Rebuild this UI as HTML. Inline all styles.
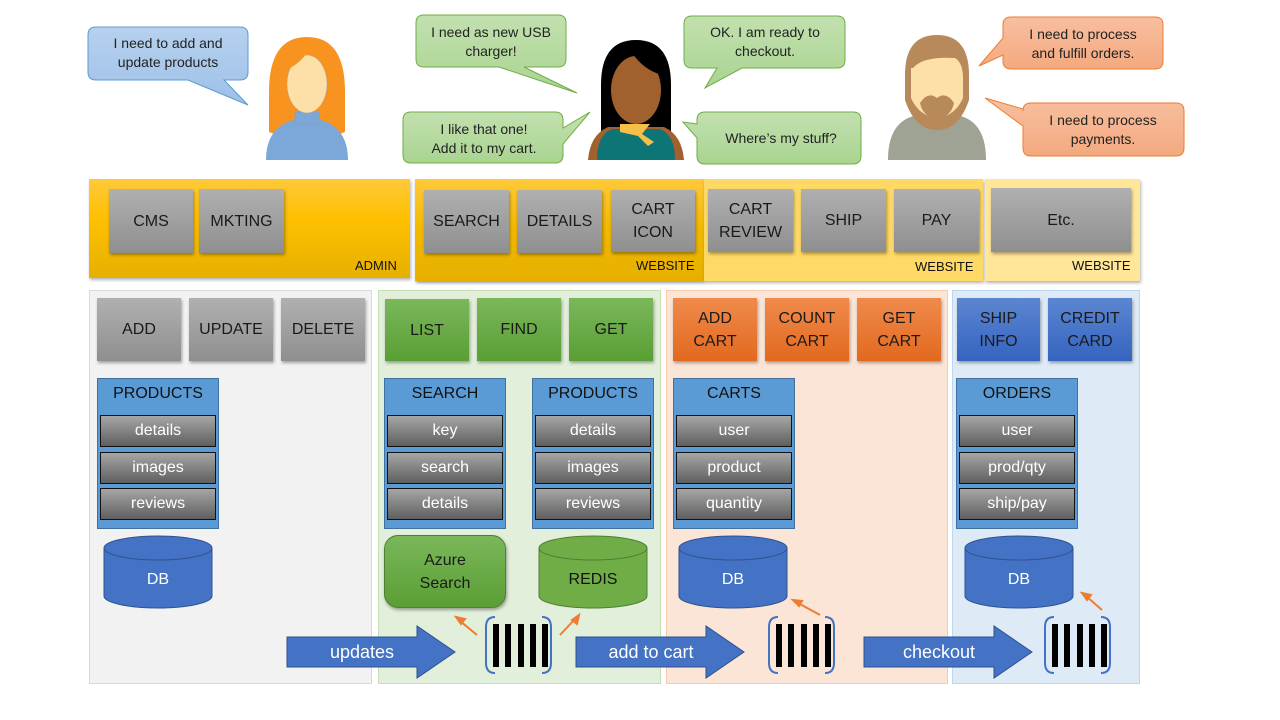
<!DOCTYPE html>
<html><head><meta charset="utf-8"><style>
*{margin:0;padding:0;box-sizing:border-box}
body{width:1280px;height:720px;background:#fff;position:relative;overflow:hidden;font-family:"Liberation Sans",sans-serif}
.a{position:absolute}
.btn{position:absolute;display:flex;align-items:center;justify-content:center;text-align:center;font-size:16px;line-height:23px;color:#1a1a1a;box-shadow:1px 2px 3px rgba(0,0,0,.35)}
.g{background:linear-gradient(#b0b0b0,#8f8f8f)}
.gr{background:linear-gradient(#7ab85a,#5a9e35)}
.or{background:linear-gradient(#f08a4b,#e2691f)}
.bl{background:linear-gradient(#5b86d0,#3564c0)}
.lbl{position:absolute;font-size:13px;color:#111}
.tbl{position:absolute;background:#5b9bd5;border:1px solid #41719c;width:122px;height:151px}
.tbl .h{position:absolute;left:0;top:6px;width:100%;text-align:center;font-size:16px;color:#111}
.row{position:absolute;left:2px;width:116px;height:32px;border:1px solid #111;background:linear-gradient(#a6a6a6,#5f5f5f);color:#fff;font-size:16px;display:flex;align-items:center;justify-content:center}
</style></head><body>

<div class="a" style="left:89px;top:290px;width:283px;height:394px;background:#f2f2f2;border:1px solid #d9d9d9"></div>
<div class="a" style="left:378px;top:290px;width:283px;height:394px;background:#e2efda;border:1px solid #c5e0b4"></div>
<div class="a" style="left:666px;top:290px;width:282px;height:394px;background:#fbe5d6;border:1px solid #f8cbad"></div>
<div class="a" style="left:952px;top:290px;width:188px;height:394px;background:#deebf7;border:1px solid #bdd7ee"></div>

<div class="a" style="left:89px;top:179px;width:321px;height:99px;background:linear-gradient(#ffc93a,#ffc000 40%,#e6b000);box-shadow:1px 2px 3px rgba(0,0,0,.3)"></div>
<div class="a" style="left:415px;top:179px;width:289px;height:102px;background:linear-gradient(#ffc93a,#f2b800 50%,#e6b000);box-shadow:1px 2px 3px rgba(0,0,0,.4)"></div>
<div class="a" style="left:704px;top:179px;width:279px;height:102px;background:#ffd966;box-shadow:1px 2px 3px rgba(0,0,0,.3)"></div>
<div class="a" style="left:985px;top:179px;width:155px;height:102px;background:#ffe699;box-shadow:1px 2px 3px rgba(0,0,0,.3)"></div>
<div class="lbl" style="left:355px;top:258px">ADMIN</div>
<div class="lbl" style="left:636px;top:258px">WEBSITE</div>
<div class="lbl" style="left:915px;top:259px">WEBSITE</div>
<div class="lbl" style="left:1072px;top:258px">WEBSITE</div>

<div class="btn g" style="left:109px;top:189px;width:84px;height:64px">CMS</div>
<div class="btn g" style="left:199px;top:189px;width:85px;height:64px">MKTING</div>
<div class="btn g" style="left:424px;top:190px;width:85px;height:63px">SEARCH</div>
<div class="btn g" style="left:517px;top:190px;width:85px;height:63px">DETAILS</div>
<div class="btn g" style="left:611px;top:190px;width:84px;height:62px">CART<br>ICON</div>
<div class="btn g" style="left:708px;top:189px;width:85px;height:63px">CART<br>REVIEW</div>
<div class="btn g" style="left:801px;top:189px;width:85px;height:63px">SHIP</div>
<div class="btn g" style="left:894px;top:189px;width:85px;height:63px">PAY</div>
<div class="btn g" style="left:991px;top:188px;width:140px;height:64px">Etc.</div>

<div class="btn g" style="left:97px;top:298px;width:84px;height:63px">ADD</div>
<div class="btn g" style="left:189px;top:298px;width:84px;height:63px">UPDATE</div>
<div class="btn g" style="left:281px;top:298px;width:84px;height:63px">DELETE</div>
<div class="btn gr" style="left:385px;top:299px;width:84px;height:62px">LIST</div>
<div class="btn gr" style="left:477px;top:298px;width:84px;height:63px">FIND</div>
<div class="btn gr" style="left:569px;top:298px;width:84px;height:63px">GET</div>
<div class="btn or" style="left:673px;top:298px;width:84px;height:63px">ADD<br>CART</div>
<div class="btn or" style="left:765px;top:298px;width:84px;height:63px">COUNT<br>CART</div>
<div class="btn or" style="left:857px;top:298px;width:84px;height:63px">GET<br>CART</div>
<div class="btn bl" style="left:957px;top:298px;width:83px;height:63px">SHIP<br>INFO</div>
<div class="btn bl" style="left:1048px;top:298px;width:84px;height:63px">CREDIT<br>CARD</div>

<div class="tbl" style="left:97px;top:378px"><div class="h">PRODUCTS</div>
<div class="row" style="top:36px">details</div><div class="row" style="top:73px">images</div><div class="row" style="top:109px">reviews</div></div>
<div class="tbl" style="left:384px;top:378px"><div class="h">SEARCH</div>
<div class="row" style="top:36px">key</div><div class="row" style="top:73px">search</div><div class="row" style="top:109px">details</div></div>
<div class="tbl" style="left:532px;top:378px"><div class="h">PRODUCTS</div>
<div class="row" style="top:36px">details</div><div class="row" style="top:73px">images</div><div class="row" style="top:109px">reviews</div></div>
<div class="tbl" style="left:673px;top:378px"><div class="h">CARTS</div>
<div class="row" style="top:36px">user</div><div class="row" style="top:73px">product</div><div class="row" style="top:109px">quantity</div></div>
<div class="tbl" style="left:956px;top:378px"><div class="h">ORDERS</div>
<div class="row" style="top:36px">user</div><div class="row" style="top:73px">prod/qty</div><div class="row" style="top:109px">ship/pay</div></div>

<div class="btn gr" style="left:384px;top:535px;width:122px;height:73px;border-radius:14px;border:1px solid #507e32">Azure<br>Search</div>

<svg class="a" style="left:0;top:0" width="1280" height="720" xmlns="http://www.w3.org/2000/svg">
<defs>
<linearGradient id="gb" x1="0" y1="0" x2="0" y2="1"><stop offset="0" stop-color="#b7d1ee"/><stop offset="1" stop-color="#9dc0e8"/></linearGradient>
<linearGradient id="gg" x1="0" y1="0" x2="0" y2="1"><stop offset="0" stop-color="#c2e0b0"/><stop offset="1" stop-color="#a9d48f"/></linearGradient>
<linearGradient id="go" x1="0" y1="0" x2="0" y2="1"><stop offset="0" stop-color="#f8bfa0"/><stop offset="1" stop-color="#f4a97f"/></linearGradient>
</defs>
<g stroke="#2f528f" stroke-width="1">
<path d="M104 548 v48 a54 12 0 0 0 108 0 v-48" fill="#4472c4"/><ellipse cx="158" cy="548" rx="54" ry="12" fill="#4472c4"/>
<path d="M539 548 v48 a54 12 0 0 0 108 0 v-48" fill="#70ad47" stroke="#507e32"/><ellipse cx="593" cy="548" rx="54" ry="12" fill="#70ad47" stroke="#507e32"/>
<path d="M679 548 v48 a54 12 0 0 0 108 0 v-48" fill="#4472c4"/><ellipse cx="733" cy="548" rx="54" ry="12" fill="#4472c4"/>
<path d="M965 548 v48 a54 12 0 0 0 108 0 v-48" fill="#4472c4"/><ellipse cx="1019" cy="548" rx="54" ry="12" fill="#4472c4"/>
</g>
<g font-family="Liberation Sans" font-size="16" text-anchor="middle">
<text x="158" y="584" fill="#fff">DB</text><text x="593" y="584" fill="#111">REDIS</text>
<text x="733" y="584" fill="#fff">DB</text><text x="1019" y="584" fill="#fff">DB</text>
</g>
<g fill="#4472c4" stroke="#2f528f">
<path d="M287 637 h130 v-11 l38 26 l-38 26 v-11 h-130z"/>
<path d="M576 637 h130 v-11 l38 26 l-38 26 v-11 h-130z"/>
<path d="M864 637 h130 v-11 l38 26 l-38 26 v-11 h-130z"/>
</g>
<g font-family="Liberation Sans" font-size="18" fill="#fff" text-anchor="middle">
<text x="362" y="658">updates</text><text x="651" y="658">add to cart</text><text x="939" y="658">checkout</text>
</g>
<g id="q">
<path d="M495 617 q-9 0 -9 10 v36 q0 10 9 10 M542 617 q9 0 9 10 v36 q0 10 -9 10" fill="none" stroke="#4472c4" stroke-width="2"/>
<g fill="#000"><rect x="493" y="624" width="6" height="43"/><rect x="505" y="624" width="6" height="43"/><rect x="518" y="624" width="6" height="43"/><rect x="530" y="624" width="6" height="43"/><rect x="542" y="624" width="6" height="43"/></g>
</g>
<use href="#q" x="283"/><use href="#q" x="559"/>
<g stroke="#ed7d31" stroke-width="2" fill="#ed7d31">
<line x1="477" y1="635" x2="460" y2="621"/><path d="M456 617 l9 2 l-4 5z"/>
<line x1="560" y1="635" x2="575" y2="619"/><path d="M579 615 l-2 9 l-5 -4z"/>
<line x1="820" y1="615" x2="798" y2="603"/><path d="M793 600 l9 1 l-3 5z"/>
<line x1="1102" y1="610" x2="1086" y2="596"/><path d="M1082 593 l9 2 l-4 5z"/>
</g>
<g font-family="Liberation Sans" font-size="14" fill="#222" text-anchor="middle">
<path d="M96 27 h144 q8 0 8 8 v37 q0 8 -8 8 h-16 l24 25 l-60 -25 h-92 q-8 0 -8 -8 v-37 q0 -8 8 -8z" fill="url(#gb)" stroke="#5b9bd5"/>
<text x="168" y="48">I need to add and</text><text x="168" y="67">update products</text>
<path d="M424 15 h134 q8 0 8 8 v36 q0 8 -8 8 h-34 l53 26 l-78 -26 h-75 q-8 0 -8 -8 v-36 q0 -8 8 -8z" fill="url(#gg)" stroke="#70ad47"/>
<text x="491" y="37">I need as new USB</text><text x="491" y="56">charger!</text>
<path d="M692 16 h145 q8 0 8 8 v36 q0 8 -8 8 h-95 l-37 20 l12 -20 h-25 q-8 0 -8 -8 v-36 q0 -8 8 -8z" fill="url(#gg)" stroke="#70ad47"/>
<text x="765" y="37">OK. I am ready to</text><text x="765" y="56">checkout.</text>
<path d="M411 112 h144 q8 0 8 8 v8 l27 -16 l-27 32 v11 q0 8 -8 8 h-144 q-8 0 -8 -8 v-35 q0 -8 8 -8z" fill="url(#gg)" stroke="#70ad47"/>
<text x="484" y="134">I like that one!</text><text x="484" y="153">Add it to my cart.</text>
<path d="M705 112 h148 q8 0 8 8 v36 q0 8 -8 8 h-148 q-8 0 -8 -8 v-18 l-14 -16 l14 2 v-4 q0 -8 8 -8z" fill="url(#gg)" stroke="#70ad47"/>
<text x="781" y="143">Where’s my stuff?</text>
<path d="M1011 17 h144 q8 0 8 8 v36 q0 8 -8 8 h-144 q-8 0 -8 -8 v-6 l-24 11 l24 -28 v-13 q0 -8 8 -8z" fill="url(#go)" stroke="#ed7d31"/>
<text x="1083" y="39">I need to process</text><text x="1083" y="58">and fulfill orders.</text>
<path d="M1031 103 h145 q8 0 8 8 v37 q0 8 -8 8 h-145 q-8 0 -8 -8 v-22 l-38 -28 l38 11 v2 q0 -8 8 -8z" fill="url(#go)" stroke="#ed7d31"/>
<text x="1103" y="125">I need to process</text><text x="1103" y="144">payments.</text>
</g>
<!-- woman 1 -->
<g>
<path d="M307 37 q-38 0 -38 55 v40 q15 6 38 6 q23 0 38 -6 v-40 q0 -55 -38 -55z" fill="#f7931e"/>
<path d="M266 160 q0 -32 27 -40 h28 q27 8 27 40z" fill="#7ba7d9"/>
<rect x="295" y="112" width="24" height="12" fill="#7ba7d9" stroke="#8a9bb0" stroke-width=".6"/>
<ellipse cx="307" cy="84" rx="20" ry="29" fill="#fde0a8" stroke="#aaa" stroke-width=".5"/>
<path d="M286 70 q18 -8 26 -26 q10 16 22 24 q-4 -28 -27 -28 q-24 0 -21 30z" fill="#f7931e"/>
</g>
<!-- woman 2 -->
<g>
<path d="M636 40 q-35 0 -35 45 v50 h70 v-50 q0 -45 -35 -45z" fill="#000"/>
<path d="M588 160 q2 -25 20 -33 h56 q18 8 20 33z" fill="#a0612f"/>
<path d="M597 160 q0 -25 15 -31 h48 q15 6 15 31z" fill="#0e7577"/>
<ellipse cx="636" cy="90" rx="25" ry="34" fill="#a0612f"/>
<path d="M608 68 q10 -30 40 -22 q20 10 18 30 q-25 -5 -38 -30z" fill="#000"/>
<path d="M620 124 h30 l-8 10 l12 8 l-6 4 l-10 -10 l-18 -4z" fill="#f5c04a"/>
</g>
<!-- man -->
<g>
<path d="M888 160 q0 -40 30 -45 h38 q30 5 30 45z" fill="#9ea394"/>
<path d="M919 110 l18 12 l18 -12 v8 l-18 10 l-18 -10z" fill="#7d8275"/>
<path d="M937 35 q-32 0 -32 40 v25 q10 30 32 30 q22 0 32 -30 v-25 q0 -40 -32 -40z" fill="#b8895a"/>
<path d="M913 68 q10 -12 42 -10 q8 5 8 20 v20 q-8 18 -26 20 q-18 -2 -26 -20 v-30z" fill="#fde0a8"/>
<path d="M920 103 q8 -12 17 -5 q9 -7 17 5 q-3 14 -17 16 q-14 -2 -17 -16z" fill="#b8895a"/>
</g>
</svg>
</body></html>
